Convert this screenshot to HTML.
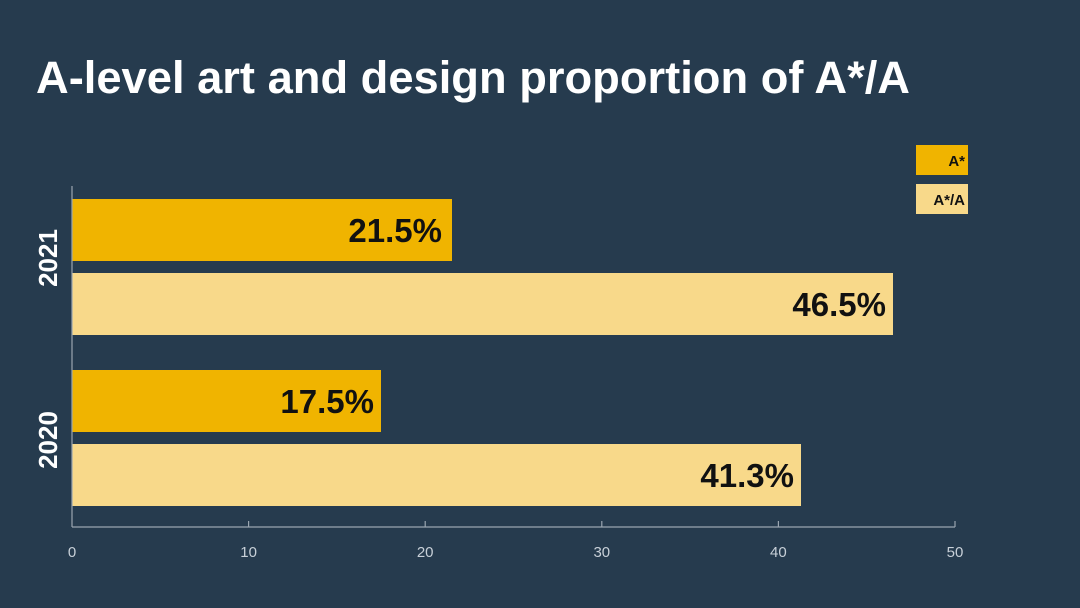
<!DOCTYPE html>
<html><head><meta charset="utf-8"><style>
html,body{margin:0;padding:0;background:#263b4e;}
svg{display:block}
</style></head><body>
<svg width="1080" height="608" viewBox="0 0 1080 608" xmlns="http://www.w3.org/2000/svg">
<rect width="1080" height="608" fill="#263b4e"/>
<text x="36" y="93" font-family="Liberation Sans, sans-serif" font-weight="bold" font-size="45" fill="#fff" textLength="874" lengthAdjust="spacingAndGlyphs">A-level art and design proportion of A*/A</text>
<g font-family="Liberation Sans, sans-serif" font-weight="bold">
<rect x="72" y="199" width="380" height="62" fill="#f0b400"/>
<rect x="72" y="273" width="821" height="62" fill="#f8d98a"/>
<rect x="72" y="370" width="309" height="62" fill="#f0b400"/>
<rect x="72" y="444" width="729" height="62" fill="#f8d98a"/>
<g font-size="33" fill="#111" text-anchor="end">
<text x="442" y="242">21.5%</text>
<text x="886" y="316">46.5%</text>
<text x="374" y="413">17.5%</text>
<text x="794" y="487">41.3%</text>
</g>
<g font-size="26" fill="#fff" text-anchor="middle">
<text transform="translate(57,258) rotate(-90)">2021</text>
<text transform="translate(57,440) rotate(-90)">2020</text>
</g>
<rect x="916" y="145" width="52" height="30" fill="#f0b400"/>
<rect x="916" y="184" width="52" height="30" fill="#f8d98a"/>
<text x="965" y="166" font-size="15" fill="#111" text-anchor="end">A*</text>
<text x="965" y="205" font-size="15" fill="#111" text-anchor="end">A*/A</text>
</g>
<g stroke="#9aa5b0" stroke-width="1.2" fill="none">
<line x1="72" y1="186" x2="72" y2="527"/>
<line x1="72" y1="527" x2="955" y2="527"/>
<line x1="248.6" y1="521" x2="248.6" y2="527"/>
<line x1="425.2" y1="521" x2="425.2" y2="527"/>
<line x1="601.8" y1="521" x2="601.8" y2="527"/>
<line x1="778.4" y1="521" x2="778.4" y2="527"/>
<line x1="955" y1="521" x2="955" y2="527"/>
</g>
<g font-family="Liberation Sans, sans-serif" font-size="15" fill="#c8d0d8" text-anchor="middle">
<text x="72" y="557">0</text>
<text x="248.6" y="557">10</text>
<text x="425.2" y="557">20</text>
<text x="601.8" y="557">30</text>
<text x="778.4" y="557">40</text>
<text x="955" y="557">50</text>
</g>
</svg>
</body></html>
